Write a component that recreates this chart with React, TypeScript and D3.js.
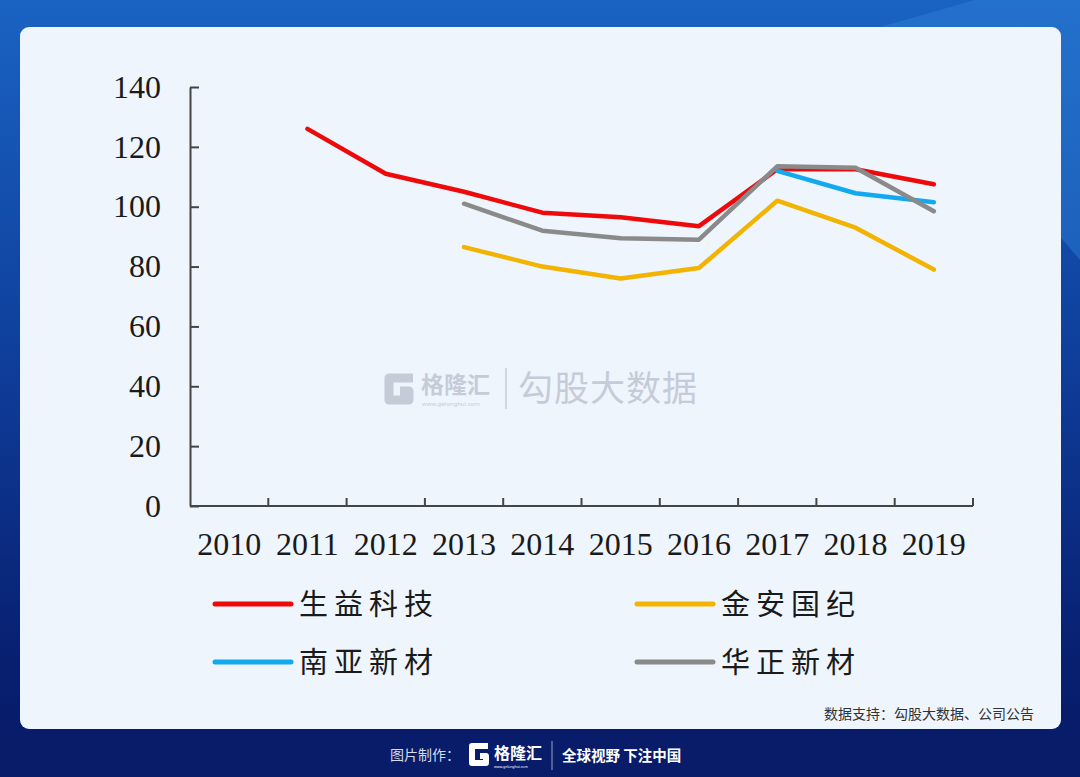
import React, { useEffect, useRef } from 'react';
import * as d3 from 'd3';

const years = ['2010', '2011', '2012', '2013', '2014', '2015', '2016', '2017', '2018', '2019'];
const shengyi: (number | null)[] = [null, 126, 111, 105, 98, 96.5, 93.5, 112.5, 112.5, 107.5];
const jinan: (number | null)[] = [null, null, null, 86.5, 80, 76, 79.5, 102, 93, 79];
const nanya: (number | null)[] = [null, null, null, null, null, null, null, 112, 104.5, 101.5];
const huazheng: (number | null)[] = [null, null, null, 101, 92, 89.5, 89, 113.5, 113, 98.5];
const seriesNames = ['生益科技', '金安国纪', '南亚新材', '华正新材'];
const seriesColors = ['#ee0a0a', '#f2b400', '#12a9ee', '#8a8a8a'];
const yTicks = [0, 20, 40, 60, 80, 100, 120, 140];
const sourceText = '数据支持：勾股大数据、公司公告';

const W = 1080;
const H = 777;

export default function App() {
  const ref = useRef<SVGSVGElement | null>(null);

  useEffect(() => {
    document.body.style.margin = '0';
    const svg = d3.select(ref.current);
    svg.selectAll('*').remove();

    const defs = svg.append('defs');
    const bg = defs.append('linearGradient').attr('id', 'bg').attr('x1', 0).attr('y1', 0).attr('x2', 0).attr('y2', 1);
    bg.append('stop').attr('offset', '0%').attr('stop-color', '#1a63c2');
    bg.append('stop').attr('offset', '45%').attr('stop-color', '#0f3f9c');
    bg.append('stop').attr('offset', '85%').attr('stop-color', '#081f70');
    bg.append('stop').attr('offset', '100%').attr('stop-color', '#071b67');

    svg.append('rect').attr('width', W).attr('height', H).attr('fill', 'url(#bg)');
    svg.append('polygon').attr('points', '880,27 975,0 1080,0 1080,260').attr('fill', '#2f86dc').attr('opacity', 0.4);
    svg.append('rect').attr('x', 0).attr('y', 729).attr('width', W).attr('height', 48).attr('fill', '#081c69');

    // card
    svg.append('rect').attr('x', 20).attr('y', 27).attr('width', 1041).attr('height', 702).attr('rx', 9).attr('fill', '#eef5fd');

    // watermark
    const wm = svg.append('g').attr('fill', '#c6ccd7').attr('stroke', 'none');
    wm.append('path')
      .attr('d', 'M413,378 L389,378 L389,400 L409,400 L409,391 L400,391')
      .attr('fill', 'none').attr('stroke', '#c6ccd7').attr('stroke-width', 9).attr('stroke-linejoin', 'round');
    wm.append('text').attr('x', 421).attr('y', 393).attr('font-family', 'Noto Sans CJK SC').attr('font-size', 23).attr('font-weight', 700).text('格隆汇');
    wm.append('text').attr('x', 422).attr('y', 406).attr('font-family', 'Noto Sans').attr('font-size', 6).text('www.gelonghui.com');
    wm.append('line').attr('x1', 506).attr('x2', 506).attr('y1', 368).attr('y2', 409).attr('stroke', '#c6ccd7').attr('stroke-width', 1.5);
    wm.append('text').attr('x', 518).attr('y', 401).attr('font-family', 'Noto Sans CJK SC').attr('font-size', 35).attr('letter-spacing', 1).text('勾股大数据');

    const x = d3.scaleBand<string>().domain(years).range([190, 973]);
    const y = d3.scaleLinear().domain([0, 140]).range([506, 87]);
    const bw = x.bandwidth();
    const axisColor = '#454545';

    // y axis
    const yAxis = d3.axisLeft(y).tickValues(yTicks).tickSizeInner(-9).tickSizeOuter(0).tickPadding(29);
    const yg = svg.append('g').attr('transform', 'translate(190,0)').call(yAxis);
    yg.select('.domain').attr('stroke', axisColor).attr('stroke-width', 2);
    yg.selectAll('.tick line').attr('stroke', axisColor).attr('stroke-width', 2);
    yg.selectAll('.tick text')
      .attr('font-family', '"Liberation Serif", "Times New Roman", serif')
      .attr('font-size', 32).attr('fill', '#1a1a1a');

    // x axis
    const xg = svg.append('g');
    xg.append('line').attr('x1', 190).attr('x2', 973).attr('y1', y(0)).attr('y2', y(0))
      .attr('stroke', axisColor).attr('stroke-width', 2);
    const bounds = years.slice(1).map((yr) => x(yr) as number).concat([x.range()[1]]);
    xg.selectAll('line.tk').data(bounds).enter().append('line').attr('class', 'tk')
      .attr('x1', (d) => d).attr('x2', (d) => d).attr('y1', y(0)).attr('y2', y(0) - 8)
      .attr('stroke', axisColor).attr('stroke-width', 2);
    xg.selectAll('text').data(years).enter().append('text')
      .attr('x', (d) => (x(d) as number) + bw / 2).attr('y', 555)
      .attr('text-anchor', 'middle')
      .attr('font-family', '"Liberation Serif", "Times New Roman", serif')
      .attr('font-size', 32).attr('fill', '#1a1a1a').text((d) => d);

    // lines
    const allSeries = [shengyi, jinan, nanya, huazheng];
    const line = d3.line<number | null>()
      .defined((d) => d !== null)
      .x((_, i) => (x(years[i]) as number) + bw / 2)
      .y((d) => y(d as number));
    allSeries.forEach((s, i) => {
      svg.append('path').attr('d', line(s) as string).attr('fill', 'none')
        .attr('stroke', seriesColors[i]).attr('stroke-width', 4.5)
        .attr('stroke-linejoin', 'round').attr('stroke-linecap', 'round');
    });

    // legend
    const legPos = [[215, 604], [637, 604], [215, 662], [637, 662]];
    seriesNames.forEach((name, i) => {
      const [lx, ly] = legPos[i];
      svg.append('line').attr('x1', lx).attr('x2', lx + 76).attr('y1', ly).attr('y2', ly)
        .attr('stroke', seriesColors[i]).attr('stroke-width', 5).attr('stroke-linecap', 'round');
      svg.append('text').attr('x', lx + 84).attr('y', ly + 11)
        .attr('font-family', '"Noto Sans CJK SC"').attr('font-size', 29).attr('letter-spacing', 6)
        .attr('fill', '#1a1a1a').text(name);
    });

    // source
    svg.append('text').attr('x', 1034).attr('y', 719).attr('text-anchor', 'end')
      .attr('font-family', '"Noto Sans CJK SC"').attr('font-size', 14).attr('fill', '#333').text(sourceText);

    // footer
    const ft = svg.append('g');
    ft.append('text').attr('x', 390).attr('y', 760).attr('font-family', '"Noto Sans CJK SC"')
      .attr('font-size', 14).attr('fill', '#d5dcec').text('图片制作：');
    ft.append('path').attr('d', 'M488,746 L472,746 L472,763 L486,763 L486,756 L480,756')
      .attr('fill', 'none').attr('stroke', '#ffffff').attr('stroke-width', 6).attr('stroke-linejoin', 'round');
    ft.append('text').attr('x', 494).attr('y', 759).attr('font-family', '"Noto Sans CJK SC"')
      .attr('font-size', 16).attr('font-weight', 700).attr('fill', '#ffffff').text('格隆汇');
    ft.append('text').attr('x', 494).attr('y', 768).attr('font-family', 'Noto Sans')
      .attr('font-size', 3.5).attr('fill', '#ffffff').text('www.gelonghui.com');
    ft.append('line').attr('x1', 552).attr('x2', 552).attr('y1', 741).attr('y2', 770)
      .attr('stroke', '#ffffff').attr('stroke-opacity', 0.6).attr('stroke-width', 1);
    ft.append('text').attr('x', 562).attr('y', 761).attr('font-family', '"Noto Sans CJK SC"')
      .attr('font-size', 14.5).attr('font-weight', 700).attr('fill', '#ffffff').text('全球视野 下注中国');
  }, []);

  return <svg ref={ref} width={W} height={H} style={{ display: 'block' }} />;
}
